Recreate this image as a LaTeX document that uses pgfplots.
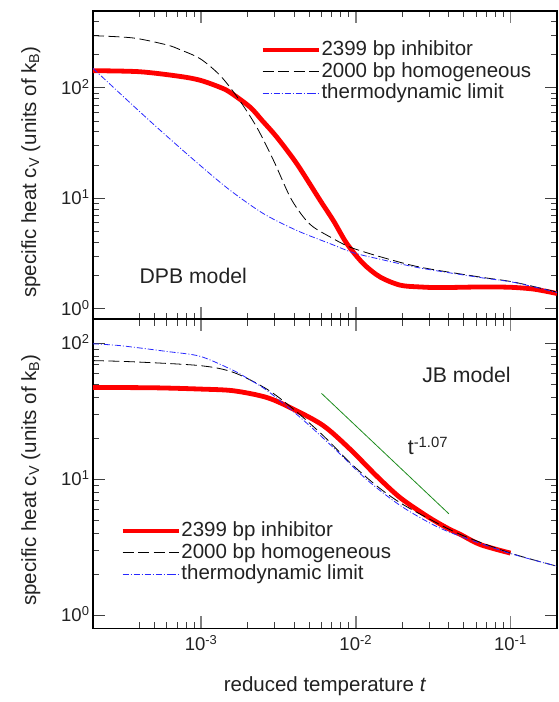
\documentclass[border=0pt]{standalone}
\usepackage{fontspec}
\setmainfont{Liberation Sans}
\usepackage{pgfplots}
\pgfplotsset{compat=1.18}
\definecolor{txt}{RGB}{34,34,34}
\definecolor{grn}{RGB}{30,140,30}
\definecolor{blu}{RGB}{40,40,255}
\newcommand{\fs}{\fontsize{18.5}{21}\selectfont}
\newcommand{\fl}{\fontsize{20.5}{23}\selectfont}
\newcommand{\fm}{\fontsize{21.2}{24}\selectfont}
\pgfplotsset{
  legend image code/.code={\draw[#1] (0pt,0pt) -- (47pt,0pt); \path (47pt,0pt) -- (56.5pt,0pt);},
  tick align=inside,
  major tick length=12pt, minor tick length=6.5pt,
  tick style={black!75, line width=0.8pt},
  major x tick style={black!50, line width=1.6pt},
  axis line style={line width=1.6pt, black},
  tick label style={font=\fs, text=txt},
  yticklabel style={anchor=base east, yshift=-6.7pt},
  label style={font=\fl, text=txt},
  legend cell align=left,
  legend style={draw=none, fill=none, inner sep=0pt, row sep=2.3pt,
    font=\fl, text=txt,
    nodes={inner sep=0pt, text height=15pt, text depth=4.5pt}},
}
\begin{document}
\begin{tikzpicture}
\path[use as bounding box] (0,0) rectangle (558pt,702pt);
% top panel
\begin{axis}[xmode=log, ymode=log, scale only axis, width=464pt, height=308.6pt,
  at={(93pt,382.7pt)}, anchor=south west,
  xmin=2e-4, xmax=0.2, ymin=0.8, ymax=500,
  xtick={1e-3,1e-2,1e-1},
  minor xtick={4e-4,5e-4,6e-4,7e-4,8e-4,9e-4,2e-3,3e-3,4e-3,5e-3,6e-3,7e-3,8e-3,9e-3,2e-2,3e-2,4e-2,5e-2,6e-2,7e-2,8e-2,9e-2},
  ytick={1,10,100},
  yticklabels={10\textsuperscript{0},10\textsuperscript{1},10\textsuperscript{2}},
  minor ytick={2,3,4,5,6,7,8,9,20,30,40,50,60,70,80,90,200,300,400},
  xticklabels={},
  ylabel={specific heat c\textsubscript{V} (units of k\textsubscript{B})},
  ylabel style={at={(axis description cs:-0.134,0.477)}, anchor=center},
  legend style={at={(axis description cs:0.360,0.905)}, anchor=north west}]
\addplot[red, line width=4.8pt, smooth, no markers] coordinates {
(2e-4,143) (4e-4,140) (7.3e-4,127) (9.9e-4,117) (1.33e-3,101) (1.54e-3,91)
(2.07e-3,67) (2.5e-3,50) (3.09e-3,35.7) (4.16e-3,20.5) (5.89e-3,9.55) (7.2e-3,6.2)
(8.77e-3,3.87) (1.12e-2,2.55) (1.44e-2,1.93) (1.94e-2,1.63) (2.62e-2,1.57) (3.5e-2,1.55)
(6.4e-2,1.57) (0.1,1.56) (0.142,1.50) (0.2,1.37)};
\addlegendentry{2399 bp inhibitor}
\addplot[black, line width=0.8pt, dash pattern=on 11pt off 4.5pt, smooth, no markers] coordinates {
(2e-4,297) (3.65e-4,283) (6.0e-4,245) (7.3e-4,222) (9.9e-4,183) (1.33e-3,129)
(1.74e-3,80) (2.29e-3,44) (2.94e-3,22) (3.77e-3,10.2) (4.59e-3,6.75) (5.33e-3,5.47)
(6.84e-3,4.45) (9.2e-3,3.6) (1.44e-2,2.95) (2.62e-2,2.37) (6.4e-2,1.93) (0.105,1.74) (0.2,1.41)};
\addlegendentry{2000 bp homogeneous}
\addplot[blu, line width=0.8pt, dash pattern=on 6pt off 2pt on 1pt off 2pt, smooth, no markers] coordinates {
(2e-4,150) (4.0e-4,61) (6.0e-4,36.5) (1e-3,19.5) (1.54e-3,11.8) (2.53e-3,7.25)
(4.16e-3,5.1) (6.84e-3,3.87) (9.7e-3,3.2) (1.44e-2,2.8) (2.62e-2,2.33) (6.4e-2,1.91)
(0.105,1.73) (0.2,1.40)};
\addlegendentry{thermodynamic limit}
\node[font=\fm, text=txt] at (rel axis cs:0.216,0.140) {DPB model};
\end{axis}
% bottom panel
\begin{axis}[xmode=log, ymode=log, scale only axis, width=464pt, height=309pt,
  at={(93pt,73.7pt)}, anchor=south west,
  xmin=2e-4, xmax=0.2, ymin=0.8, ymax=150,
  xtick={1e-3,1e-2,1e-1},
  minor xtick={4e-4,5e-4,6e-4,7e-4,8e-4,9e-4,2e-3,3e-3,4e-3,5e-3,6e-3,7e-3,8e-3,9e-3,2e-2,3e-2,4e-2,5e-2,6e-2,7e-2,8e-2,9e-2},
  ytick={1,10,100},
  yticklabels={10\textsuperscript{0},10\textsuperscript{1},10\textsuperscript{2}},
  minor ytick={2,3,4,5,6,7,8,9,20,30,40,50,60,70,80,90},
  xticklabels={10\textsuperscript{-3},10\textsuperscript{-2},10\textsuperscript{-1}},
  xticklabel style={anchor=base, yshift=-22pt},
  xlabel={reduced temperature \textit{t}},
  xlabel style={at={(axis description cs:0.5,-0.205)}, anchor=base},
  ylabel={specific heat c\textsubscript{V} (units of k\textsubscript{B})},
  ylabel style={at={(axis description cs:-0.134,0.48)}, anchor=center},
  legend style={at={(axis description cs:0.058,0.347)}, anchor=north west}]
\addplot[red, line width=4.8pt, smooth, no markers] coordinates {
(2e-4,47.3) (5e-4,47) (9.9e-4,46) (1.62e-3,44.7) (2.66e-3,39.9) (3.96e-3,32.7)
(6.19e-3,24.7) (9.2e-3,16.6) (1.37e-2,10.5) (1.94e-2,7.3) (2.89e-2,5.34) (3.89e-2,4.38)
(4.75e-2,3.92) (6.4e-2,3.3) (0.1,2.86)};
\addlegendentry{2399 bp inhibitor}
\addplot[black, line width=0.8pt, dash pattern=on 11pt off 4.5pt, smooth, no markers] coordinates {
(2e-4,74.5) (3.65e-4,73) (9.9e-4,68.4) (1.62e-3,61) (2.66e-3,46) (3.96e-3,32.7)
(6.19e-3,20.8) (9.2e-3,13.2) (1.37e-2,8.9) (1.94e-2,6.7) (2.89e-2,5.2) (4.75e-2,3.92)
(0.1,2.86) (0.2,2.29)};
\addlegendentry{2000 bp homogeneous}
\addplot[blu, line width=0.8pt, dash pattern=on 6pt off 2pt on 1pt off 2pt, smooth, no markers] coordinates {
(2e-4,99) (3e-4,96) (6e-4,87) (9.9e-4,80) (1.62e-3,63) (2e-3,55) (2.66e-3,45)
(4.37e-3,28.5) (7.19e-3,17.0) (1.18e-2,9.9) (1.94e-2,6.4) (3.19e-2,4.6) (4.75e-2,3.8)
(0.1,2.84) (0.2,2.29)};
\addlegendentry{thermodynamic limit}
\addplot[grn, line width=0.8pt, forget plot] coordinates {(0.006,42.8) (0.04,5.56)};
\node[font=\fm, text=txt] at (rel axis cs:0.805,0.820) {JB model};
\node[font=\fm, text=txt] at (rel axis cs:0.722,0.590) {t\textsuperscript{-1.07}};
\end{axis}
\end{tikzpicture}
\end{document}
